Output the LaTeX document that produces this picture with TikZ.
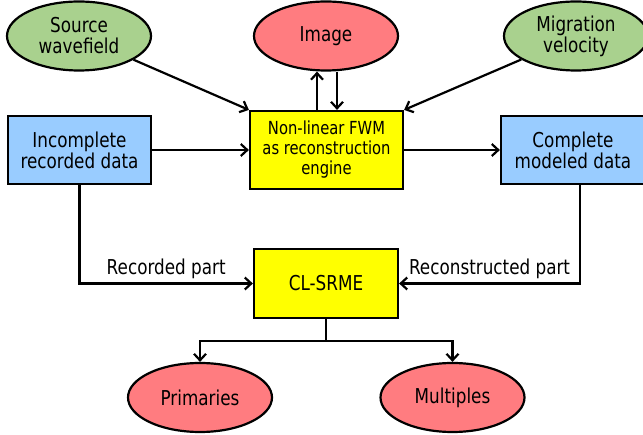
\documentclass[tikz,border=0pt]{standalone}
\usepackage{fontspec}
\setmainfont[FakeStretch=0.82]{DejaVu Sans}
\usetikzlibrary{shapes.geometric,arrows.meta,calc}
\definecolor{cgreen}{HTML}{A9D18E}
\definecolor{cred}{HTML}{FF7C80}
\definecolor{cblue}{HTML}{99CCFF}
\definecolor{cyel}{HTML}{FFFF00}
\begin{document}
\begin{tikzpicture}[x=1pt,y=-1pt,
  every node/.style={font=\fontsize{20.5}{21}\selectfont, align=center, inner sep=0pt, line width=2.2pt},
  ell/.style={ellipse, draw, minimum width=144pt, minimum height=69pt},
  box/.style={rectangle, draw, minimum width=143pt, minimum height=68pt},
  conn/.style={line width=2.2pt, -{Straight Barb[length=6.5pt,width=12pt,line width=2.2pt]}},
  lbl/.style={draw=none, fill=none, inner sep=4pt}
]
\useasboundingbox (0,0) rectangle (643,435);
\node[ell, fill=cgreen] (src) at (79,36) {Source\\wavefield};
\node[ell, fill=cred] (img) at (326,36) {Image};
\node[ell, fill=cgreen] (mig) at (576,36) {Migration\\velocity};
\node[box, fill=cblue] (inc) at (79.5,150) {Incomplete\\recorded data};
\node[box, fill=cyel, minimum width=153pt, minimum height=78pt, font=\fontsize{18}{20}\selectfont] (fwm) at (326.5,150) {Non-linear FWM\\as reconstruction\\engine};
\node[box, fill=cblue, minimum width=144pt] (comp) at (573,150) {Complete\\modeled data};
\node[box, fill=cyel, minimum width=144pt, minimum height=69pt] (cl) at (326,283.5) {CL-SRME};
\node[ell, fill=cred] (prim) at (200,397.5) {Primaries};
\node[ell, fill=cred] (mult) at (452.5,397.5) {Multiples};

\coordinate (upA) at ($(fwm.north)+(-9.5,0)$);
\coordinate (dnA) at ($(fwm.north)+(10.5,0)$);
\coordinate (cmpd) at ($(comp.south)+(7,0)$);
\coordinate (split) at (326,341);

\draw[conn] (src) -- (fwm.north west);
\draw[conn] (mig) -- (fwm.north east);
\draw[conn] (upA) -- (upA |- img.south);
\draw[conn] (dnA |- img.south) -- (dnA);
\draw[conn] (inc) -- (fwm);
\draw[conn] (fwm) -- (comp);
\draw[conn] (inc.south) |- node[lbl, above, pos=0.75] {Recorded part} (cl.west);
\draw[conn] (cmpd) |- node[lbl, above, pos=0.75] {Reconstructed part} (cl.east);
\draw[line width=2.2pt] (cl.south) -- (split);
\draw[conn] (split) -| (prim.north);
\draw[conn] (split) -| (mult.north);
\end{tikzpicture}
\end{document}
